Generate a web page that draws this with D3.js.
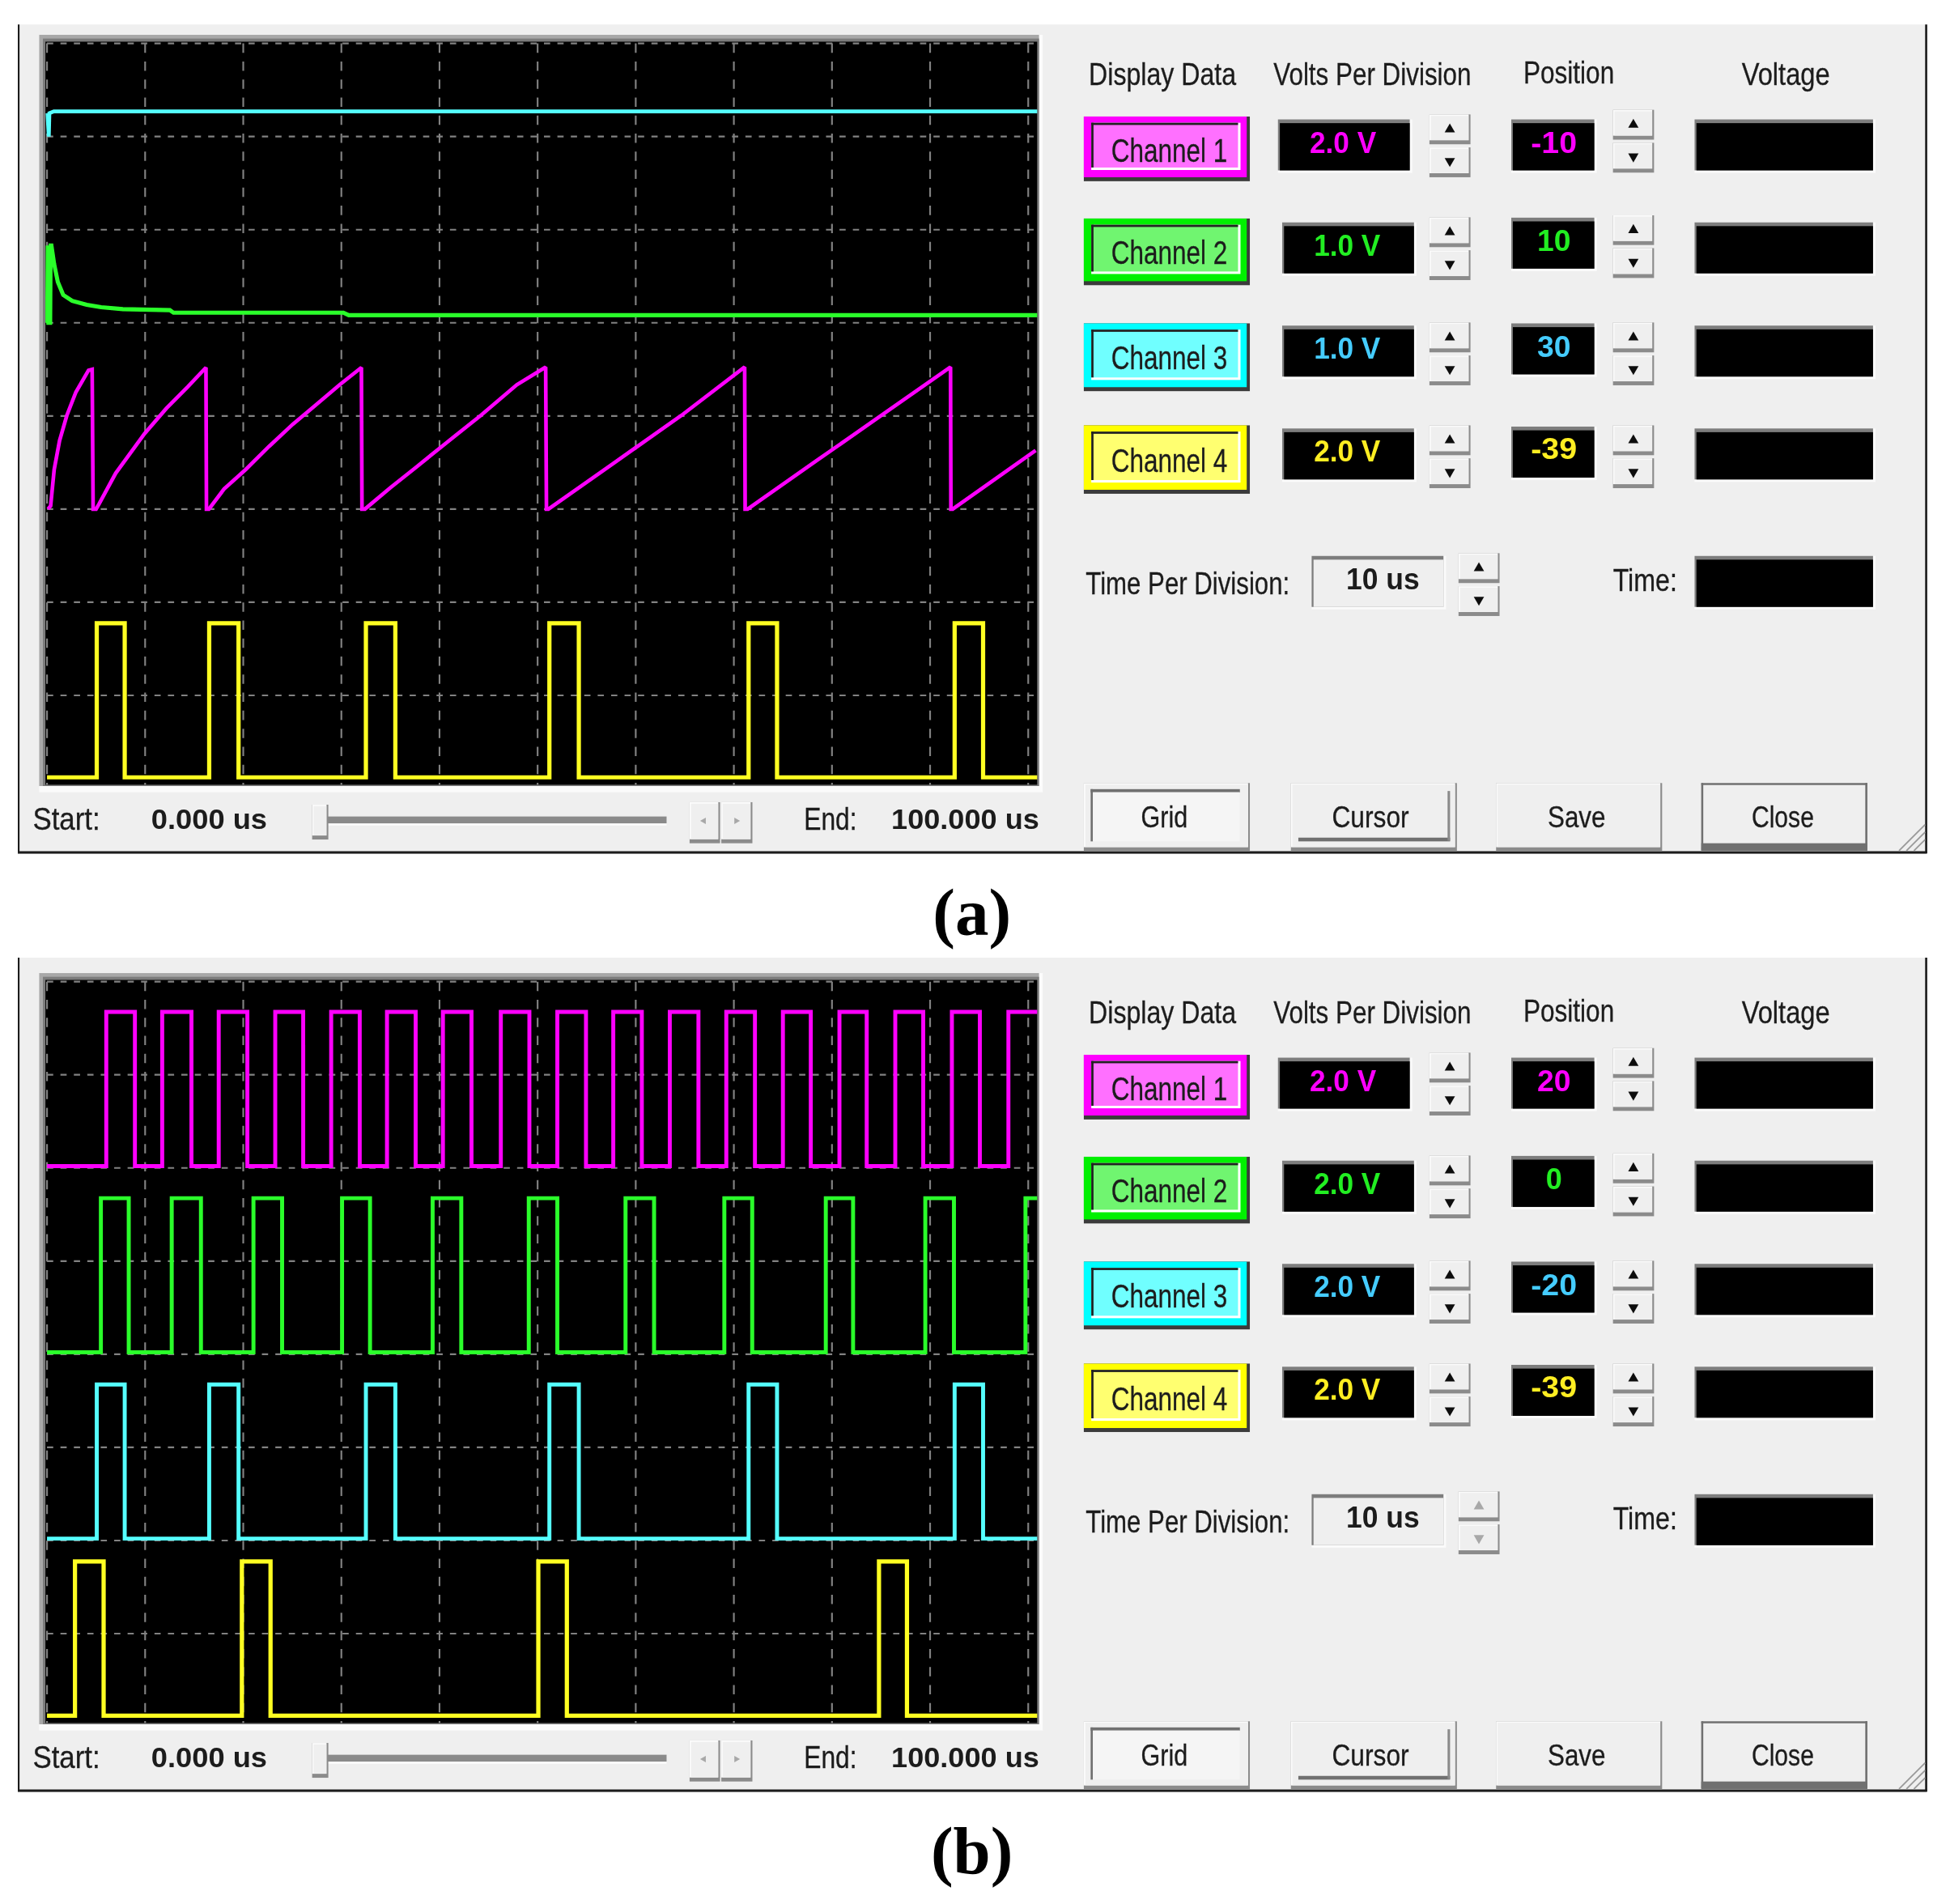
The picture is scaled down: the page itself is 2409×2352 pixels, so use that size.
<!DOCTYPE html>
<html lang="en">
<head>
<meta charset="UTF-8">
<title>Oscilloscope captures</title>
<script src="https://cdn.jsdelivr.net/npm/d3@7"></script>
<style>
    *{margin: 0;padding: 0}
    body{background: #fff}
    text{font-family: "Liberation Sans", Arial, sans-serif;fill: #1c1c1c;stroke: #1c1c1c;stroke-width: 0.2px}
    text.bold{font-weight: bold;stroke: none}
    text.caption{font-family: "Liberation Serif", serif;font-weight: bold;fill: #000;stroke: none}
</style>
</head>
<body>
<div id="scope"></div>
<script>
    // times in us and levels in volts
    var channelNames = ["Channel 1", "Channel 2", "Channel 3", "Channel 4"];
    var columnHeads = ["Display Data", "Volts Per Division", "Position", "Voltage"];
    var actionButtons = ["Grid", "Cursor", "Save", "Close"];
    var channelColors = ["#ff00ff", "#2cff2c", "#55ffff", "#ffff22"];
    var channelBorders = ["#ff00ff", "#00f000", "#00ffff", "#ffff00"];
    var channelTints = ["#ff70ff", "#70f570", "#70ffff", "#ffff70"];
    var channelText = ["#ff00ff", "#22ee22", "#44ccff", "#ffee22"];

    var aVolts = [2, 1, 1, 2];
    var aPositions = [-10, 10, 30, -39];
    var bVolts = [2, 2, 2, 2];
    var bPositions = [20, 0, -20, -39];

    // (a) ramp on channel 1
    var aRamp = [
        [0.1, 0], [0.37, 0.07], [0.73, 0.85], [1.28, 1.47], [2.02, 2.01], [2.94, 2.51], [4.23, 2.98], [4.6, 3.0], [4.7, 0], [5.0, 0],
        [5.3, 0.11], [7.0, 0.77], [9.94, 1.62], [12.15, 2.16], [14.36, 2.63], [16.2, 3.04], [16.25, 0], [16.5, 0],
        [18.04, 0.43], [20.25, 0.85], [22.65, 1.35], [25.04, 1.82], [27.25, 2.21], [29.83, 2.67], [32.04, 3.04], [32.1, 0], [32.4, 0],
        [34.99, 0.46], [37.56, 0.89], [40.5, 1.39], [44.2, 2.01], [47.88, 2.67], [50.82, 3.05], [50.9, 0], [51.1, 0],
        [57.7, 0.98], [64.65, 2.01], [71.1, 3.05], [71.15, 0], [71.4, 0],
        [78.5, 1.05], [85.5, 2.08], [92.08, 3.05], [92.12, 0], [92.3, 0],
        [100.76, 1.26]
    ];
    // (a) channel 2 start-up spike and settling
    var aSettle = [
        [0.02, 0], [0.08, 0.83], [0.14, 0], [0.32, 0], [0.37, 0.83], [0.45, 0.83], [0.73, 0.63], [1.1, 0.44], [1.65, 0.3], [2.57, 0.236],
        [4.05, 0.194], [5.52, 0.167], [7.73, 0.147], [12.52, 0.136], [12.89, 0.109], [30.2, 0.109], [30.75, 0.082], [101, 0.082]
    ];
    // (a) channel 3 rail
    var aRail = [[0.05, 0.25], [0.18, 0], [0.24, 0.25], [0.7, 0.27], [101, 0.27]];
    // (a) channel 4 gate, also (b) channel 3
    var slowGateEdges = [5.07, 7.92, 16.53, 19.52, 32.5, 35.5, 51.2, 54.2, 71.5, 74.4, 92.5, 95.4];
    var gateLevels = [0.04, 3.35];

    var bCh1Edges = [6.04, 8.96, 11.74, 14.72, 17.5, 20.42, 23.26, 26.11, 28.96, 31.87, 34.65, 37.57, 40.35, 43.26, 46.25, 49.16,
        52.01, 54.93, 57.71, 60.62, 63.47, 66.39, 69.23, 72.15, 75.0, 77.84, 80.76, 83.54, 86.45, 89.3, 92.22, 95.07, 97.98];
    var bCh2Edges = [5.49, 8.33, 12.71, 15.69, 21.04, 23.96, 30.07, 32.92, 39.3, 42.22, 49.1, 52.01, 58.96, 61.87,
        69.03, 71.87, 79.37, 82.15, 89.51, 92.43, 99.72];
    var bCh4Edges = [2.85, 5.77, 19.86, 22.78, 50.07, 52.98, 84.79, 87.64];

    var timeTicks = [0, 10, 20, 30, 40, 50, 60, 70, 80, 90, 100];
    var divTicks = [-4, -3, -2, -1, 0, 1, 2, 3, 4];

    function stepPoints(edges, levels) {
        var high = false, pts = [[0, levels[0]]];
        edges.forEach(function (t) {
            pts.push([t, high ? levels[1] : levels[0]]);
            high = !high;
            pts.push([t, high ? levels[1] : levels[0]]);
        });
        pts.push([101, high ? levels[1] : levels[0]]);
        return pts;
    }

    var panelA = {
        id: "a", dy: 0, top: 19.7, volts: aVolts, positions: aPositions, spinDisabled: false,
        traces: [aRamp, aSettle, aRail, stepPoints(slowGateEdges, gateLevels)],
        widths: [3, 3.3, 3.1, 3.4]
    };
    var panelB = {
        id: "b", dy: 754.4, top: 15.6, volts: bVolts, positions: bPositions, spinDisabled: true,
        traces: [stepPoints(bCh1Edges, gateLevels), stepPoints(bCh2Edges, gateLevels),
            stepPoints(slowGateEdges, gateLevels), stepPoints(bCh4Edges, gateLevels)],
        widths: [3.2, 3.2, 3.2, 3.4]
    };

    // layout is worked out on a 1568 wide sheet, then scaled to the window
    var svg = d3.select("#scope").append("svg")
        .attr("width", 2409).attr("height", 2352)
        .attr("viewBox", "0 0 1568 1530.9")
        .style("display", "block");

    var defs = svg.append("defs");
    defs.append("filter").attr("id", "soft")
        .attr("x", "-2%").attr("y", "-2%").attr("width", "104%").attr("height", "104%")
        .append("feGaussianBlur").attr("stdDeviation", 0.5);

    var x = d3.scaleLinear().domain([0, 100]).range([37.8, 826.8]);
    var gridY = d3.scaleLinear().domain([-4, 4]).range([634, 34.9]);

    function channelY(volts, position) {
        var centre = position / 10 * volts;
        return d3.scaleLinear().domain([-4 * volts - centre, 4 * volts - centre]).range([634, 34.9]);
    }

    function box(g, x0, y0, w, h, fill) {
        return g.append("rect").attr("x", x0).attr("y", y0).attr("width", w).attr("height", h).attr("fill", fill);
    }

    function label(g, str, x0, x1, base, size, cls, color) {
        var t = g.append("text").attr("x", x0).attr("y", base).attr("font-size", size)
            .attr("textLength", x1 - x0).attr("lengthAdjust", "spacingAndGlyphs").text(str);
        if (cls) t.attr("class", cls);
        if (color) t.style("fill", color);
        return t;
    }

    function sunken(g, x0, y0, w, h, fill) {
        box(g, x0, y0, w, h, "#fbfbfb");
        box(g, x0, y0, w - 2, h - 2, "#7d7d7d");
        box(g, x0 + 1.5, y0 + 3, w - 3.5, h - 5, fill);
    }

    function raised(g, x0, y0, w, h) {
        box(g, x0, y0, w, h, "#8b8b8b");
        box(g, x0, y0, w - 1.4, h - 3.2, "#fbfbfb");
        box(g, x0 + 1.2, y0 + 1.2, w - 2.8, h - 4.6, "#efefef");
    }

    function spinner(g, x0, y0, disabled) {
        raised(g, x0, y0, 33, 24);
        raised(g, x0, y0 + 26.5, 33, 24);
        var color = disabled ? "#a8a8a8" : "#111";
        g.append("path").attr("d", d3.symbol(d3.symbolTriangle, 30)())
            .attr("transform", "translate(" + (x0 + 16.4) + "," + (y0 + 12) + ")").attr("fill", color);
        g.append("path").attr("d", d3.symbol(d3.symbolTriangle, 30)())
            .attr("transform", "translate(" + (x0 + 16.4) + "," + (y0 + 37.5) + ") rotate(180)").attr("fill", color);
    }

    function channelButton(g, x0, y0, h, i) {
        box(g, x0, y0, 133.5, h, "#3a3a3a");
        box(g, x0, y0, 131, h - 3.2, channelBorders[i]);
        box(g, x0 + 6, y0 + 5, 120, h - 14, "#ffffff");
        box(g, x0 + 6, y0 + 5, 118, h - 16, channelTints[i]);
        box(g, x0 + 6, y0 + 5, 118, 1.8, "#222");
        box(g, x0 + 6, y0 + 5, 1.8, h - 16, "#222");
    }

    function drawPanel(cfg) {
        var g = root.append("g").attr("transform", "translate(0," + cfg.dy + ")");

        // window
        box(g, 14, cfg.top, 1535.5, 686 - cfg.top, "#efefef");
        box(g, 14, cfg.top, 1.7, 686 - cfg.top, "#1a1a1a");
        box(g, 1548, cfg.top, 1.7, 686 - cfg.top, "#1a1a1a");
        box(g, 14, 684.4, 1535.5, 2, "#1a1a1a");

        // scope frame
        box(g, 31.5, 28, 807, 609, "#fbfbfb");
        box(g, 31.5, 28, 804, 604, "#a8a8a8");
        box(g, 34.5, 31, 801, 601, "#7c7c7c");
        box(g, 36.5, 33.5, 797.5, 597.5, "#000");

        var clipId = "plot-" + cfg.id;
        defs.append("clipPath").attr("id", clipId).append("rect")
            .attr("x", 36.5).attr("y", 33.5).attr("width", 797.5).attr("height", 597.5);
        var plot = g.append("g").attr("clip-path", "url(#" + clipId + ")");

        // grid
        var gx = plot.append("g").attr("transform", "translate(0,34.9)")
            .call(d3.axisBottom(x).tickValues(timeTicks).tickSize(600).tickFormat("").offset(0));
        gx.select(".domain").remove();
        gx.selectAll("line").attr("stroke", "#828282").attr("stroke-width", 1.4).attr("stroke-dasharray", "7.5 7");
        var gy = plot.append("g").attr("transform", "translate(37.8,0)")
            .call(d3.axisRight(gridY).tickValues(divTicks).tickSize(800).tickFormat("").offset(0));
        gy.select(".domain").remove();
        gy.selectAll("line").attr("stroke", "#828282").attr("stroke-width", 1.4).attr("stroke-dasharray", "5 5.8");

        // traces
        cfg.traces.forEach(function (pts, i) {
            var y = channelY(cfg.volts[i], cfg.positions[i]);
            var line = d3.line().x(function (d) { return x(d[0]); }).y(function (d) { return y(d[1]); });
            plot.append("path").datum(pts).attr("d", line)
                .attr("fill", "none").attr("stroke", channelColors[i]).attr("stroke-width", cfg.widths[i])
                .attr("stroke-linejoin", "miter").attr("stroke-miterlimit", 2);
        });

        // column heads
        label(g, columnHeads[0], 875.5, 994, 68.4, 25);
        label(g, columnHeads[1], 1024, 1183, 68.4, 25);
        label(g, columnHeads[2], 1225, 1298, 66.8, 25);
        label(g, columnHeads[3], 1400.5, 1471.5, 68.4, 25);

        // channel rows
        var buttonY = [93.7, 175.7, 260, 342], buttonH = [52, 53.6, 54.5, 55];
        var voltBoxX = [1027.6, 1031, 1031, 1031], voltBoxY = [96, 178.8, 261.8, 344.5];
        var posBoxY = [96, 175, 260, 343];
        var voltBase = [123, 205.6, 288.6, 371.3], posBase = [123, 201.9, 287, 369];
        var labelBase = [130, 212, 296.5, 379.2];
        var spinA = [92, 174.7, 259.3, 342], spinB = [88.3, 173, 259.3, 342];
        channelNames.forEach(function (name, i) {
            channelButton(g, 871.5, buttonY[i], buttonH[i], i);
            label(g, name, 893.5, 987, labelBase[i], 27);

            sunken(g, voltBoxX[i], voltBoxY[i], 108, 43, "#000");
            label(g, cfg.volts[i].toFixed(1) + " V", voltBoxX[i] + 25.5, voltBoxX[i] + 79, voltBase[i], 23.5, "bold", channelText[i]);
            spinner(g, 1149.4, spinA[i], false);

            sunken(g, 1215, posBoxY[i], 69, 43, "#000");
            var posText = String(cfg.positions[i]);
            var posW = posText.length === 3 ? 37 : (posText.length === 2 ? 27 : 13);
            label(g, posText, 1249.5 - posW / 2, 1249.5 + posW / 2, posBase[i], 23.5, "bold", channelText[i]);
            spinner(g, 1297, spinB[i], false);

            sunken(g, 1362.6, voltBoxY[i], 145.5, 43, "#000");
        });

        // time row
        label(g, "Time Per Division:", 873, 1037, 477.6, 25);
        sunken(g, 1054.7, 447, 108, 43, "#efefef");
        label(g, "10 us", 1082.5, 1141.5, 473.8, 23.5, "bold");
        spinner(g, 1172.8, 444.8, cfg.spinDisabled);
        label(g, "Time:", 1297, 1348.6, 475.4, 25);
        sunken(g, 1362.6, 447, 145.5, 43, "#000");

        // action buttons
        var actionX = [871.5, 1038, 1203, 1368], textX = [[917.5, 955], [1071, 1133], [1244.5, 1291], [1408.5, 1458.6]];
        actionButtons.forEach(function (name, i) {
            raised(g, actionX[i], 629.6, 133.5, 54.8);
            if (i === 0) {
                box(g, actionX[i] + 5.5, 634.5, 120, 2.6, "#707070");
                box(g, actionX[i] + 5.5, 634.5, 1.8, 42, "#707070");
                box(g, actionX[i] + 7.3, 637, 118, 39.5, "#f5f5f5");
            }
            if (i === 1) {
                box(g, actionX[i] + 6, 673.5, 122, 3, "#707070");
                box(g, actionX[i] + 126, 636, 2, 40, "#8a8a8a");
            }
            if (i === 3) {
                box(g, actionX[i], 629.6, 133.5, 1.6, "#707070");
                box(g, actionX[i], 629.6, 1.6, 54, "#707070");
                box(g, actionX[i] + 131.9, 629.6, 1.6, 54, "#707070");
                box(g, actionX[i], 678, 133.5, 6, "#707070");
            }
            label(g, name, textX[i][0], textX[i][1], 665, 24);
        });

        // resize grip
        [0, 6, 12].forEach(function (o) {
            g.append("line").attr("x1", 1527 + o).attr("y1", 684).attr("x2", 1548).attr("y2", 663 + o)
                .attr("stroke", "#9a9a9a").attr("stroke-width", 1.2);
        });

        // time bar
        label(g, "Start:", 26.3, 80.5, 667.2, 25);
        label(g, "0.000 us", 121.6, 214.8, 666.5, 23, "bold");
        box(g, 263, 662, 273, 1.8, "#fbfbfb");
        box(g, 263, 656.5, 273, 5.5, "#8a8a8a");
        raised(g, 251, 647, 13, 28);
        raised(g, 554.5, 645, 24.5, 33);
        raised(g, 580, 645, 25, 33);
        g.append("path").attr("d", d3.symbol(d3.symbolTriangle, 12)())
            .attr("transform", "translate(566,660) rotate(-90)").attr("fill", "#a8a8a8");
        g.append("path").attr("d", d3.symbol(d3.symbolTriangle, 12)())
            .attr("transform", "translate(592,660) rotate(90)").attr("fill", "#a8a8a8");
        label(g, "End:", 646.5, 689, 667.2, 25);
        label(g, "100.000 us", 716.7, 835.6, 666.5, 23, "bold");

        // caption
        g.append("text").attr("class", "caption").attr("x", 781.5).attr("y", 752)
            .attr("font-size", 54).attr("text-anchor", "middle").text("(" + cfg.id + ")");
    }

    var root = svg.append("g").attr("filter", "url(#soft)");
    drawPanel(panelA);
    drawPanel(panelB);
</script>
</body>
</html>
